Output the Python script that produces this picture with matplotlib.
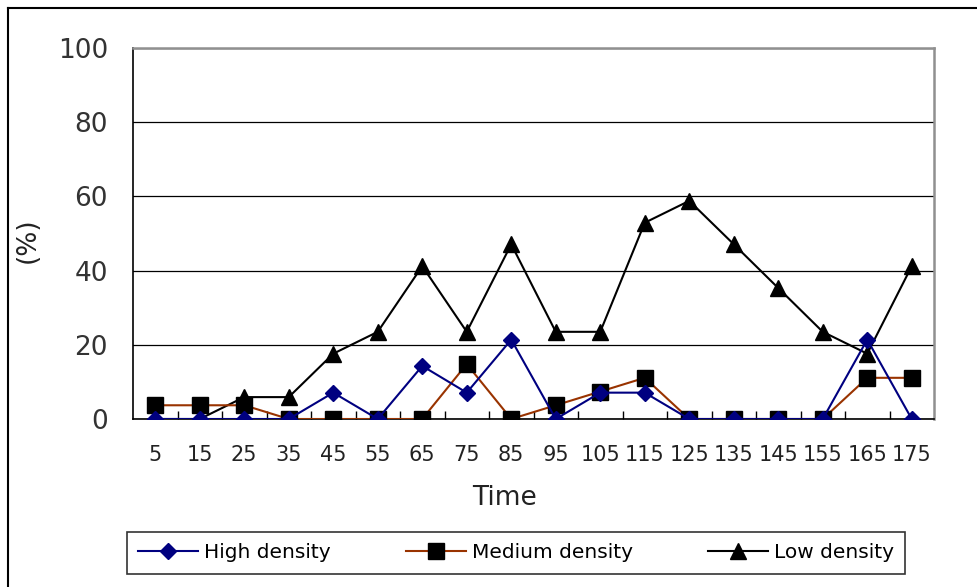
import matplotlib.pyplot as plt
from matplotlib.lines import Line2D
import numpy as np

# data
times = [5, 15, 25, 35, 45, 55, 65, 75, 85, 95, 105, 115, 125, 135, 145, 155, 165, 175]
high = [0, 0, 0, 0, 7.1, 0, 14.3, 7.1, 21.4, 0, 7.1, 7.1, 0, 0, 0, 0, 21.4, 0]
medium = [3.7, 3.7, 3.7, 0, 0, 0, 0, 14.8, 0, 3.7, 7.4, 11.1, 0, 0, 0, 0, 11.1, 11.1]
low = [0, 0, 5.9, 5.9, 17.6, 23.5, 41.2, 23.5, 47.1, 23.5, 23.5, 52.9, 58.8, 47.1, 35.3, 23.5, 17.6, 41.2]

W, H = 978, 587
fig = plt.figure(figsize=(W / 100, H / 100), dpi=100)
ax = fig.add_axes([133 / W, 1 - 419 / H, (934 - 133) / W, (419 - 48) / H])

x = np.arange(len(times))
ax.plot(x, high, color='#000080', lw=1.5, marker='D', ms=8, mfc='#000080', mec='#000080',
        label='High density', zorder=5)
ax.plot(x, medium, color='#993300', lw=1.5, marker='s', ms=11, mfc='black', mec='black',
        label='Medium density', zorder=4)
ax.plot(x, low, color='black', lw=1.5, marker='^', ms=11, mfc='black', mec='black',
        label='Low density', zorder=3)

ax.set_xlim(-0.5, len(times) - 0.5)
ax.set_ylim(0, 100)
ax.set_yticks([0, 20, 40, 60, 80, 100])
ax.yaxis.grid(True, color='black', lw=0.9)
ax.set_axisbelow(True)

ax.set_xticks(x)
ax.set_xticklabels([str(t) for t in times])
ax.set_xticks(np.arange(0.5, len(times) - 1, 1.0), minor=True)
ax.tick_params(axis='x', which='major', length=0, pad=19, labelsize=15, labelcolor='#222222')
ax.tick_params(axis='x', which='minor', direction='in', length=6, width=1, color='black')
ax.tick_params(axis='y', length=0, pad=18, labelsize=19, labelcolor='#333333')

ax.spines['top'].set_color('#909090')
ax.spines['right'].set_color('#909090')
ax.spines['top'].set_linewidth(1.8)
ax.spines['right'].set_linewidth(1.8)
ax.spines['left'].set_color('black')
ax.spines['bottom'].set_color('black')
ax.spines['left'].set_linewidth(1.2)
ax.spines['bottom'].set_linewidth(1.2)

fig.text(505 / W, 1 - 498 / H, 'Time', ha='center', va='center', fontsize=19, color='#222222')
fig.text(28 / W, 1 - 240 / H, '(%)', ha='center', va='center', rotation=90, fontsize=19,
         color='#222222')

leg = fig.legend(loc='center', bbox_to_anchor=(516 / W, 1 - 553 / H), ncol=3, fontsize=14.5,
                 frameon=True, fancybox=False, edgecolor='black', borderpad=0.55,
                 handlelength=3.0, columnspacing=3.7, handletextpad=0.3)
leg.get_frame().set_linewidth(1.2)

# outer chart border (left and top)
fig.add_artist(Line2D([8 / W, 8 / W], [0, 1 - 8 / H], color='black', lw=1.5))
fig.add_artist(Line2D([8 / W, 1], [1 - 8 / H, 1 - 8 / H], color='black', lw=1.5))

fig.savefig('out.png', dpi=100)
